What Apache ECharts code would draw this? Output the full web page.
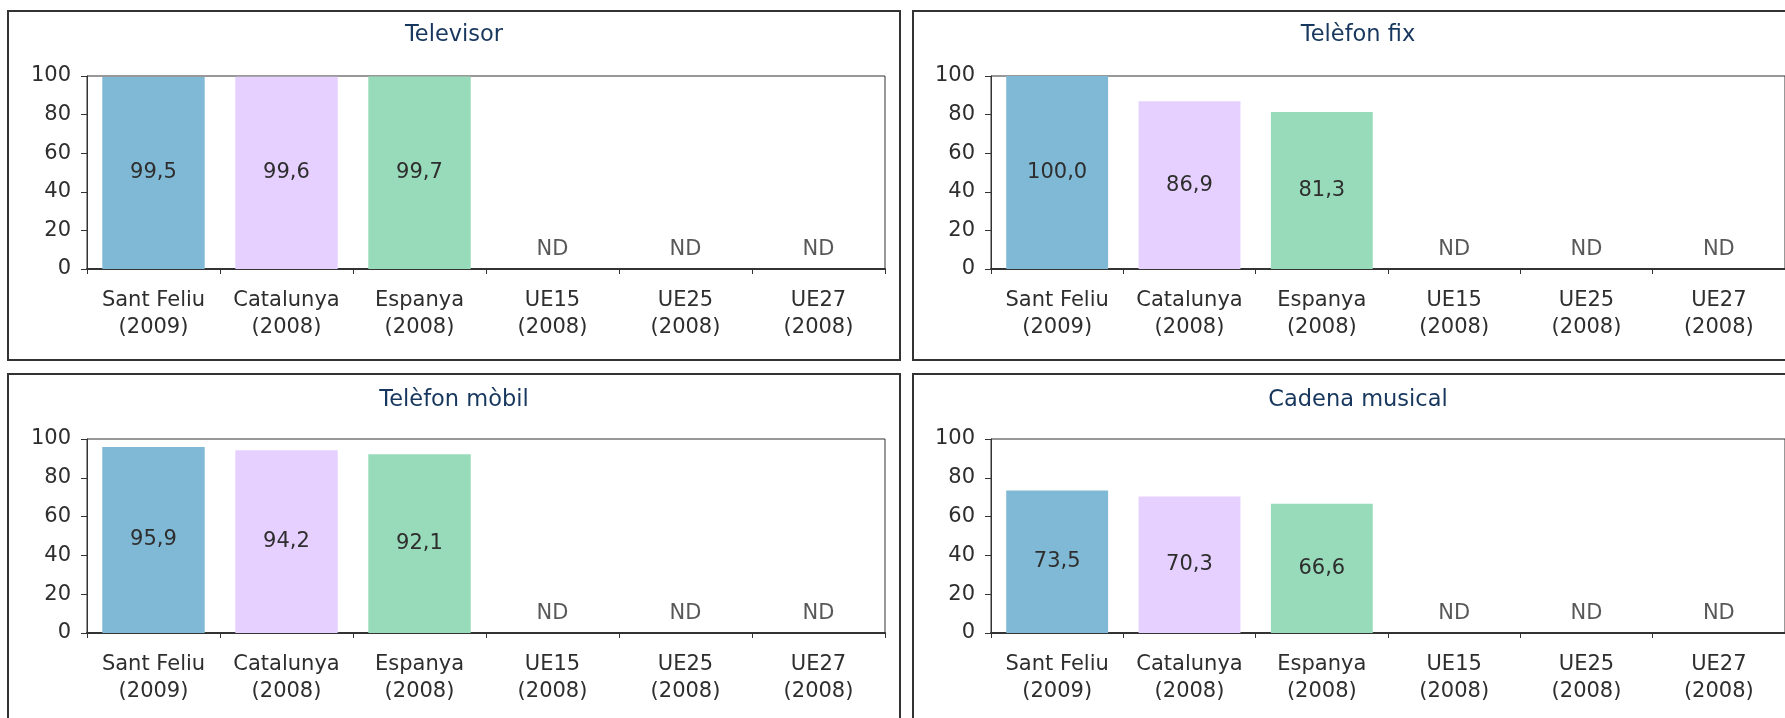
<!DOCTYPE html>
<html>
<head>
<meta charset="utf-8">
<title>Equipament de la llar</title>
<script src="https://cdn.jsdelivr.net/npm/echarts@6/dist/echarts.min.js"></script>
<style>
  html, body { margin: 0; padding: 0; background: #ffffff; overflow: hidden; }
  #chart { width: 1785px; height: 718px; }
</style>
</head>
<body>
<div id="chart"></div>
<script>
// Territories compared in every panel (line break = year of the survey)
const categories = [
  'Sant Feliu\n(2009)', 'Catalunya\n(2008)', 'Espanya\n(2008)',
  'UE15\n(2008)', 'UE25\n(2008)', 'UE27\n(2008)'
];

// Percentage of households with each item; null = no data (ND)
const televisor     = [99.5, 99.6, 99.7, null, null, null];
const telefonFix    = [100.0, 86.9, 81.3, null, null, null];
const telefonMobil  = [95.9, 94.2, 92.1, null, null, null];
const cadenaMusical = [73.5, 70.3, 66.6, null, null, null];

const panelTitles = ['Televisor', 'Telèfon fix', 'Telèfon mòbil', 'Cadena musical'];
const panelData = [televisor, telefonFix, telefonMobil, cadenaMusical];

// Value axis ticks
const yMin = 0, yMax = 100, yStep = 20;

const barColors = ['#80B9D5', '#E6D0FF', '#98DBBA', '#80B9D5', '#E6D0FF', '#98DBBA'];

const FONT = 'DejaVu Sans';
const TEXT = '#2e2e2e';
const LABEL_SIZE = 21;

// Panel frames and plot areas
const panels = [
  { frame: [8, 11, 892, 349],   grid: { left: 87,  top: 76,  width: 798, height: 193 }, titleY: 35 },
  { frame: [913, 11, 890, 349], grid: { left: 991, top: 76,  width: 798, height: 193 }, titleY: 35 },
  { frame: [8, 374, 892, 400],  grid: { left: 87,  top: 439, width: 798, height: 194 }, titleY: 400 },
  { frame: [913, 374, 890, 400], grid: { left: 991, top: 439, width: 798, height: 194 }, titleY: 400 }
];

const fmt = v => v.toFixed(1).replace('.', ',');

const option = {
  animation: false,
  backgroundColor: '#ffffff',
  title: panels.map((p, i) => ({
    text: panelTitles[i],
    left: p.frame[0] + p.frame[2] / 2,
    top: p.titleY - 13,
    padding: 0,
    textAlign: 'center',
    textStyle: { fontFamily: FONT, fontSize: 22.5, fontWeight: 'normal', color: '#17375E', lineHeight: 26 }
  })),
  grid: panels.map(p => Object.assign({
    show: true, borderColor: '#333333', borderWidth: 1, backgroundColor: 'transparent',
    containLabel: false
  }, p.grid)),
  xAxis: panels.map((p, i) => ({
    type: 'category',
    gridIndex: i,
    data: categories,
    boundaryGap: true,
    axisLine: { show: true, lineStyle: { color: '#333333', width: 2 } },
    axisTick: { show: true, alignWithLabel: false, length: 5, lineStyle: { color: '#333333', width: 1 } },
    axisLabel: { interval: 0, margin: 18, fontFamily: FONT, fontSize: LABEL_SIZE, lineHeight: 27, color: TEXT },
    splitLine: { show: false }
  })),
  yAxis: panels.map((p, i) => ({
    type: 'value',
    gridIndex: i,
    min: yMin, max: yMax, interval: yStep,
    axisLine: { show: true, lineStyle: { color: '#333333', width: 1 } },
    axisTick: { show: true, inside: false, length: 6, lineStyle: { color: '#333333' } },
    axisLabel: { margin: 16, fontFamily: FONT, fontSize: LABEL_SIZE, color: TEXT },
    splitLine: { show: false }
  })),
  series: [],
  graphic: panels.map(p => ({
    type: 'rect',
    shape: { x: p.frame[0], y: p.frame[1], width: p.frame[2], height: p.frame[3] },
    style: { fill: 'transparent', stroke: '#333333', lineWidth: 2 },
    silent: true
  }))
};

panelData.forEach((values, i) => {
  // Bars with their value written in the middle
  option.series.push({
    type: 'bar',
    xAxisIndex: i, yAxisIndex: i,
    barWidth: '77%',
    data: values.map((v, k) => ({ value: v, itemStyle: { color: barColors[k] } })),
    label: {
      show: true, position: 'inside',
      fontFamily: FONT, fontSize: LABEL_SIZE, color: TEXT,
      formatter: prm => (prm.value == null ? '' : fmt(prm.value))
    }
  });
  // "ND" marker for territories without data, sitting on the category axis
  option.series.push({
    type: 'scatter',
    xAxisIndex: i, yAxisIndex: i,
    symbolSize: 0,
    silent: true,
    data: values.map((v, k) => (v == null ? [k, yMin] : null)).filter(d => d !== null),
    label: {
      show: true, position: 'top', distance: 9,
      fontFamily: FONT, fontSize: LABEL_SIZE, color: TEXT,
      formatter: 'ND'
    }
  });
});

const chart = echarts.init(document.getElementById('chart'), null, { renderer: 'canvas' });
chart.setOption(option);
</script>
</body>
</html>
